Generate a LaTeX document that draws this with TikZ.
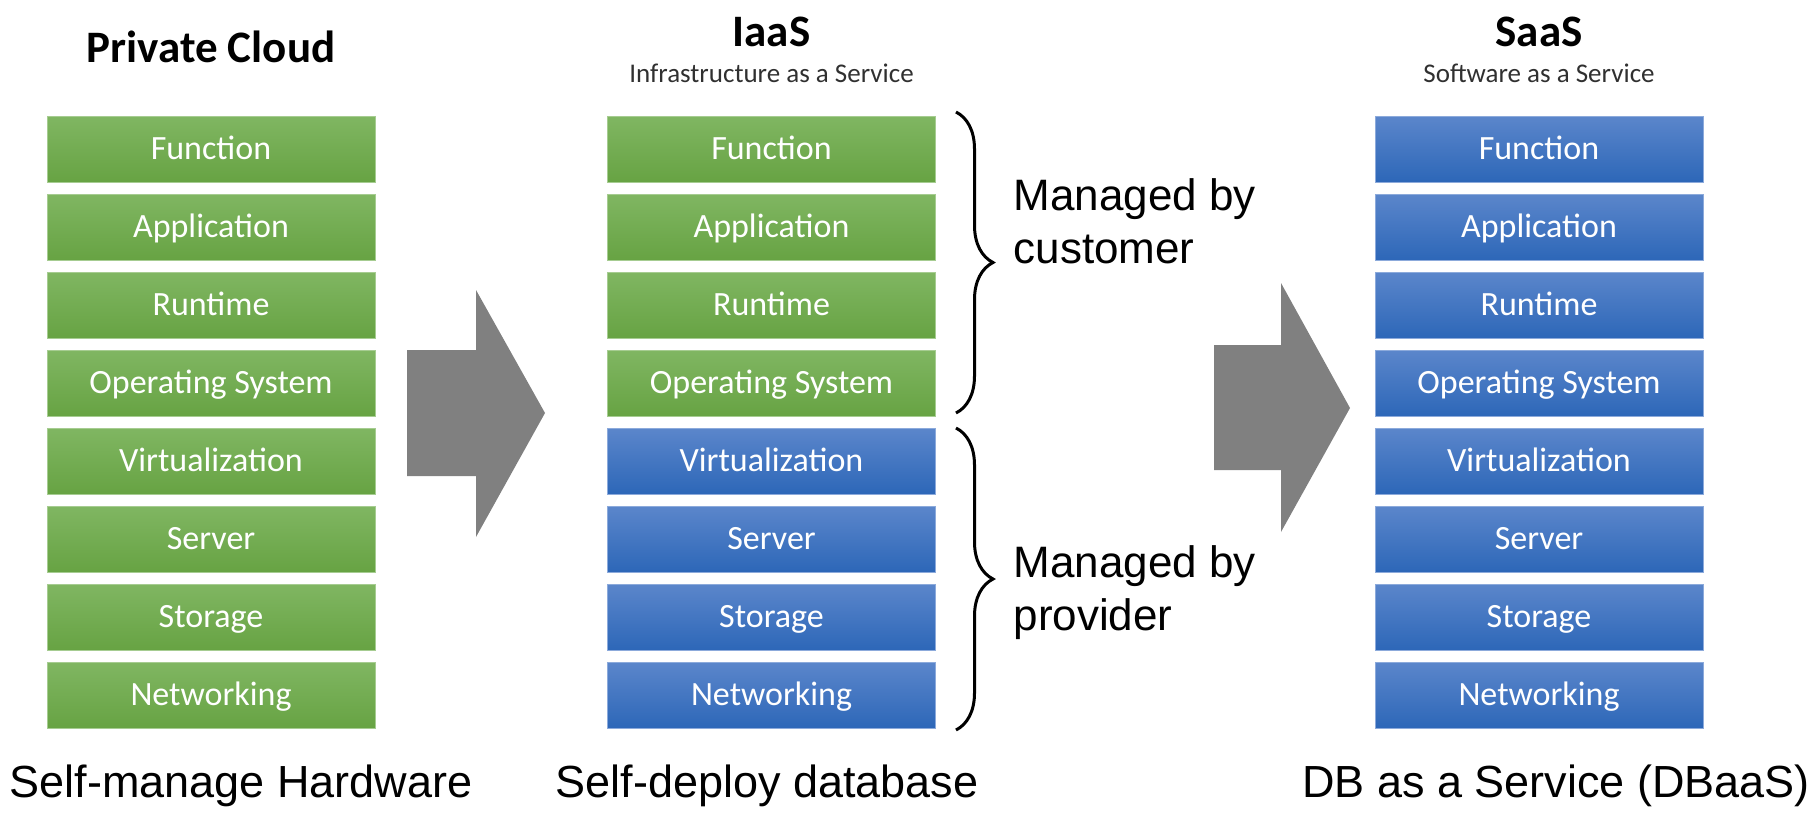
\documentclass[tikz,border=0pt]{standalone}
\usepackage{fontspec}
\setmainfont{Carlito}
\newfontfamily\arialf{Liberation Sans}
\usetikzlibrary{decorations.pathreplacing}
\definecolor{gtop}{HTML}{80B662}
\definecolor{gbot}{HTML}{67A343}
\definecolor{btop}{HTML}{5B86CB}
\definecolor{bbot}{HTML}{2D67B8}
\definecolor{arrowgray}{HTML}{808080}
\definecolor{subgray}{HTML}{303030}
\tikzset{
  layer/.style={minimum width=328pt, minimum height=66pt, inner sep=0pt,
    text=white, font=\fontsize{34}{40}\selectfont, text height=21.5pt, text depth=0pt},
  greenlayer/.style={layer, top color=gtop, bottom color=gbot, draw=gtop!70!white, line width=0.8pt},
  bluelayer/.style={layer, top color=btop, bottom color=bbot, draw=btop!70!white, line width=0.8pt},
  coltitle/.style={anchor=base, font=\fontsize{45}{54}\selectfont\bfseries},
  colsub/.style={anchor=base, text=subgray, font=\fontsize{27}{32}\selectfont},
  bottomlabel/.style={anchor=base, font=\arialf\fontsize{45}{54}\selectfont},
  managed/.style={anchor=base west, align=left, font=\arialf\fontsize{44}{53}\selectfont},
  bracestyle/.style={decorate, decoration={brace, amplitude=37pt}, line width=3pt},
  blockarrow/.style={fill=arrowgray}
}
\begin{document}
\begin{tikzpicture}[x=1pt,y=-1pt]
\useasboundingbox (0,0) rectangle (1820,822);
% titles
\node[coltitle] (t1) at (211,62) {Private Cloud};
\node[coltitle] (t2) at (771.5,46) {IaaS};
\node[colsub] (s2) at (771.5,82) {Infrastructure as a Service};
\node[coltitle] (t3) at (1539,46) {SaaS};
\node[colsub] (s3) at (1539,82) {Software as a Service};
% column 1
\node[greenlayer] (a1) at (211,149) {Function};
\node[greenlayer] (a2) at (211,227) {Application};
\node[greenlayer] (a3) at (211,305) {Runtime};
\node[greenlayer] (a4) at (211,383) {Operating System};
\node[greenlayer] (a5) at (211,461) {Virtualization};
\node[greenlayer] (a6) at (211,539) {Server};
\node[greenlayer] (a7) at (211,617) {Storage};
\node[greenlayer] (a8) at (211,695) {Networking};
% column 2
\node[greenlayer] (b1) at (771.5,149) {Function};
\node[greenlayer] (b2) at (771.5,227) {Application};
\node[greenlayer] (b3) at (771.5,305) {Runtime};
\node[greenlayer] (b4) at (771.5,383) {Operating System};
\node[bluelayer] (b5) at (771.5,461) {Virtualization};
\node[bluelayer] (b6) at (771.5,539) {Server};
\node[bluelayer] (b7) at (771.5,617) {Storage};
\node[bluelayer] (b8) at (771.5,695) {Networking};
% column 3
\node[bluelayer] (c1) at (1539,149) {Function};
\node[bluelayer] (c2) at (1539,227) {Application};
\node[bluelayer] (c3) at (1539,305) {Runtime};
\node[bluelayer] (c4) at (1539,383) {Operating System};
\node[bluelayer] (c5) at (1539,461) {Virtualization};
\node[bluelayer] (c6) at (1539,539) {Server};
\node[bluelayer] (c7) at (1539,617) {Storage};
\node[bluelayer] (c8) at (1539,695) {Networking};
% block arrows
\fill[blockarrow] (407,350) -- (476,350) -- (476,290) -- (545,413) -- (476,537) -- (476,476) -- (407,476) -- cycle;
\fill[blockarrow] (1214,345) -- (1281,345) -- (1281,283) -- (1350,408) -- (1281,532) -- (1281,470) -- (1214,470) -- cycle;
% braces
\coordinate (ub1) at (956,112);
\coordinate (ub2) at (956,413);
\coordinate (lb1) at (956,428);
\coordinate (lb2) at (956,730);
\draw[bracestyle] (ub1) -- (ub2);
\draw[bracestyle] (lb1) -- (lb2);
\node[managed] (m1) at (1010,263) {Managed by\\customer};
\node[managed] (m2) at (1010,630) {Managed by\\provider};
% bottom labels
\node[bottomlabel] (l1) at (241,797) {Self-manage Hardware};
\node[bottomlabel] (l2) at (767,797) {Self-deploy database};
\node[bottomlabel] (l3) at (1556,797) {DB as a Service (DBaaS)};
\end{tikzpicture}
\end{document}
